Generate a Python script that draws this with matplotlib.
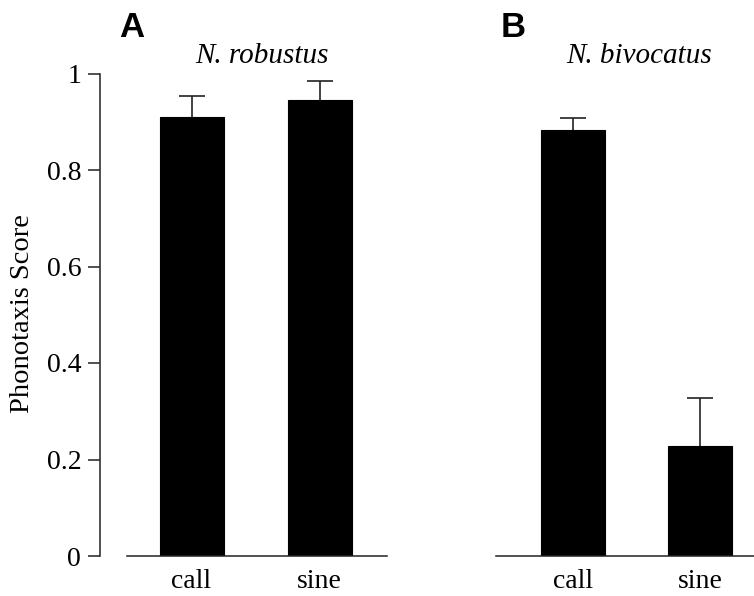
import matplotlib
matplotlib.use("Agg")
import matplotlib.pyplot as plt

# Phonotaxis scores (mean and upper SE) for the two species
conditions = ["call", "sine"]
robustus_mean = [0.910, 0.946]
robustus_err = [0.043, 0.038]
bivocatus_mean = [0.883, 0.229]
bivocatus_err = [0.025, 0.098]
y_ticks = [0, 0.2, 0.4, 0.6, 0.8, 1]
y_tick_labels = ["0", "0.2", "0.4", "0.6", "0.8", "1"]

SERIF = ["Liberation Serif", "DejaVu Serif"]
W, H = 754, 596
fig = plt.figure(figsize=(W / 100, H / 100), dpi=100)


def px_axes(x0, x1, ytop, ybot):
    return fig.add_axes([x0 / W, (H - ybot) / H, (x1 - x0) / W, (ybot - ytop) / H])


def draw_panel(ax, means, errs, xlim):
    x = list(range(len(conditions)))
    zeros = [0] * len(errs)
    ax.bar(x, means, width=0.5, color="black", edgecolor="black", linewidth=0.8, zorder=2)
    _, caps, _ = ax.errorbar(x, means, yerr=[zeros, errs], fmt="none", ecolor="#222222",
                             elinewidth=1.2, capsize=9.4, capthick=1.2, zorder=1)
    # one-sided bars: keep only the upper caps
    caps[0].set_visible(False)
    ax.set_xlim(*xlim)
    ax.set_ylim(0, 1)
    ax.set_xticks(x)
    ax.set_xticklabels(conditions, fontfamily=SERIF, fontsize=20)
    ax.tick_params(axis="x", length=0, pad=9)
    for s in ("top", "right"):
        ax.spines[s].set_visible(False)
    ax.spines["bottom"].set_linewidth(1.1)
    ax.spines["bottom"].set_color("#222222")


# Panel A
axA = px_axes(127, 387, 73.5, 556)
draw_panel(axA, robustus_mean, robustus_err, (-0.504, 1.527))
axA.spines["left"].set_position(("outward", 19.4))
axA.spines["left"].set_bounds(0, 1)
axA.spines["left"].set_linewidth(1.1)
axA.spines["left"].set_color("#222222")
axA.set_yticks(y_ticks)
axA.set_yticklabels(y_tick_labels, fontfamily=SERIF, fontsize=20)
axA.tick_params(axis="y", length=8.6, width=1.1, color="#222222", pad=5)
fig.text(23 / W, 1 - 314 / H, "Phonotaxis Score", fontfamily=SERIF, fontsize=20.5,
         rotation=90, ha="center", va="center")

# Panel B
axB = px_axes(496, 754, 73.5, 556)
draw_panel(axB, bivocatus_mean, bivocatus_err, (-0.6, 1.42))
axB.spines["left"].set_visible(False)
axB.set_yticks([])

# Species names and panel letters
fig.text(262 / W, 1 - 63 / H, "N. robustus", fontfamily=SERIF, style="italic",
         fontsize=21, ha="center", va="baseline")
fig.text(639 / W, 1 - 63 / H, "N. bivocatus", fontfamily=SERIF, style="italic",
         fontsize=21, ha="center", va="baseline")
fig.text(119 / W, 1 - 37 / H, "A", fontfamily="Liberation Sans", fontweight="bold",
         fontsize=25, ha="left", va="baseline")
fig.text(501 / W, 1 - 37 / H, "B", fontfamily="Liberation Sans", fontweight="bold",
         fontsize=25, ha="left", va="baseline")

fig.savefig("out.png", dpi=100, facecolor="white")
